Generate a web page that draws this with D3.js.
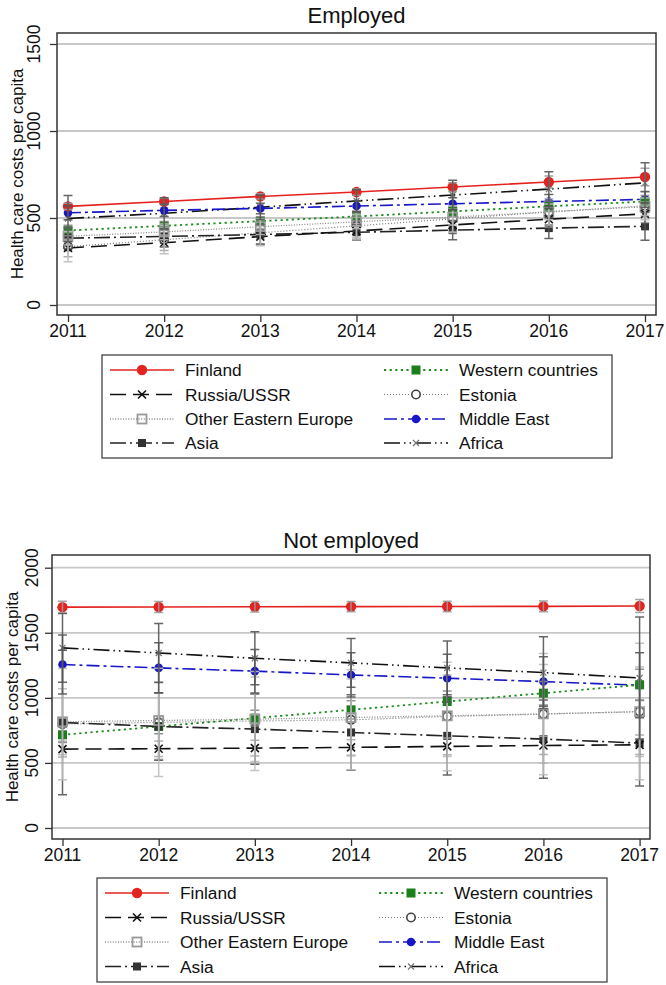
<!DOCTYPE html>
<html><head><meta charset="utf-8">
<script src="https://cdn.jsdelivr.net/npm/d3@7"></script>
<style>
body{margin:0;background:#fff}
svg{display:block}
text{font-family:"Liberation Sans",Arial,Helvetica,sans-serif;fill:#111}
</style>
</head><body><svg id="c" width="666" height="985"></svg>
<script>
// ---------- DATA ----------
const years = [2011, 2012, 2013, 2014, 2015, 2016, 2017];
const seriesNames = ["Finland", "Russia/USSR", "Other Eastern Europe", "Asia",
                     "Western countries", "Estonia", "Middle East", "Africa"];
const empTicks = [0, 500, 1000, 1500];
const notTicks = [0, 500, 1000, 1500, 2000];

// Employed: means
const empFinland  = [567, 595, 624, 649, 678, 707, 736];
const empRussia   = [328, 358, 393, 425, 460, 493, 524];
const empOEE      = [395, 420, 450, 478, 505, 535, 565];
const empAsia     = [384, 394, 405, 418, 430, 442, 452];
const empWestern  = [428, 455, 482, 509, 538, 567, 595];
const empEstonia  = [335, 375, 415, 455, 495, 535, 570];
const empMidEast  = [530, 544, 555, 569, 582, 595, 607];
const empAfrica   = [497, 527, 562, 598, 632, 666, 702];
// Employed: CI half-widths
const empFinlandCI = [18, 18, 15, 18, 25, 35, 50];
const empRussiaCI  = [50, 45, 45, 40, 45, 45, 50];
const empOEECI     = [50, 45, 45, 40, 45, 45, 50];
const empAsiaCI    = [60, 60, 55, 45, 55, 60, 80];
const empWesternCI = [30, 25, 25, 25, 30, 30, 35];
const empEstoniaCI = [87, 80, 75, 75, 75, 75, 80];
const empMidEastCI = [40, 35, 30, 30, 35, 40, 45];
const empAfricaCI  = [133, 90, 70, 65, 85, 100, 115];

// Not employed: means
const notFinland  = [1697, 1698, 1700, 1701, 1702, 1703, 1706];
const notRussia   = [606, 609, 614, 619, 627, 634, 639];
const notOEE      = [816, 826, 836, 849, 862, 877, 893];
const notAsia     = [811, 780, 760, 734, 708, 683, 652];
const notWestern  = [716, 780, 844, 908, 972, 1036, 1100];
const notEstonia  = [798, 812, 822, 831, 857, 875, 895];
const notMidEast  = [1256, 1230, 1205, 1176, 1151, 1125, 1097];
const notAfrica   = [1384, 1345, 1304, 1269, 1230, 1194, 1153];
// Not employed: CI half-widths
const notFinlandCI = [45, 42, 40, 40, 40, 42, 50];
const notRussiaCI  = [60, 60, 60, 60, 65, 70, 75];
const notOEECI     = [254, 297, 325, 295, 313, 379, 344];
const notAsiaCI    = [555, 260, 270, 290, 300, 300, 330];
const notWesternCI = [60, 55, 60, 70, 80, 90, 120];
const notEstoniaCI = [428, 416, 380, 384, 417, 466, 525];
const notMidEastCI = [226, 193, 167, 170, 184, 190, 249];
const notAfricaCI  = [264, 227, 203, 187, 206, 275, 469];

// ---------- STYLES ----------
const styles = [
  {color:"#e3231f", dash:null, width:1.6, marker:"circleFill", mcolor:"#e3231f", msize:5.2, ci:"#9a9a9a"},
  {color:"#111", dash:"16,7", width:1.6, marker:"x", mcolor:"#111", msize:4, ci:"#a8a8a8"},
  {color:"#8a8a8a", dash:"1,1.6", width:1.3, marker:"squareHollow", mcolor:"#999", msize:9, ci:"#bcbcbc"},
  {color:"#222", dash:"16,4,2,4", width:1.6, marker:"squareFill", mcolor:"#333", msize:8, ci:"#555"},
  {color:"#1e8c1e", dash:"2.2,3.4", width:1.8, marker:"squareFill", mcolor:"#1c7f1c", msize:9, ci:"#888"},
  {color:"#777", dash:"1,2", width:1.2, marker:"circleHollow", mcolor:"#444", msize:4.2, ci:"#bcbcbc"},
  {color:"#1717c8", dash:"13,4,3,4", width:1.6, marker:"circleFill", mcolor:"#1717c8", msize:4.3, ci:"#555"},
  {color:"#111", dash:"16,4,1.5,4,1.5,4", width:1.6, marker:"xSmall", mcolor:"#777", msize:3, ci:"#555"}
];

const empMeans = [empFinland, empRussia, empOEE, empAsia, empWestern, empEstonia, empMidEast, empAfrica];
const empCIs   = [empFinlandCI, empRussiaCI, empOEECI, empAsiaCI, empWesternCI, empEstoniaCI, empMidEastCI, empAfricaCI];
const notMeans = [notFinland, notRussia, notOEE, notAsia, notWestern, notEstonia, notMidEast, notAfrica];
const notCIs   = [notFinlandCI, notRussiaCI, notOEECI, notAsiaCI, notWesternCI, notEstoniaCI, notMidEastCI, notAfricaCI];

const panels = [
  {title:"Employed", means:empMeans, cis:empCIs, ticks:empTicks, ymax:1500,
   left:57, right:656, top:33, bottom:315, x0:68, x1:645, yZero:305, yTop:44,
   titleY:23, tickLabelX:34, axisTitleX:17.5, xLabelY:337,
   legend:{x:102, y:355, w:510, h:103, rows:[370, 394.5, 419, 443]}},
  {title:"Not employed", means:notMeans, cis:notCIs, ticks:notTicks, ymax:2000,
   left:52, right:650, top:555, bottom:839, x0:62.5, x1:639.6, yZero:828, yTop:567.7,
   titleY:548, tickLabelX:31.5, axisTitleX:12.5, xLabelY:861,
   legend:{x:97, y:878, w:510, h:104, rows:[893, 917.5, 942, 966.5]}}
];

const svg = d3.select("#c");

function drawMarker(g, type, x, y, st) {
  const s = st.msize;
  if (type === "circleFill") {
    g.append("circle").attr("cx", x).attr("cy", y).attr("r", s).attr("fill", st.mcolor);
  } else if (type === "circleHollow") {
    g.append("circle").attr("cx", x).attr("cy", y).attr("r", s).attr("fill", "#fff")
      .attr("stroke", st.mcolor).attr("stroke-width", 1.6);
  } else if (type === "squareFill") {
    g.append("rect").attr("x", x - s/2).attr("y", y - s/2).attr("width", s).attr("height", s).attr("fill", st.mcolor);
  } else if (type === "squareHollow") {
    g.append("rect").attr("x", x - s/2).attr("y", y - s/2).attr("width", s).attr("height", s)
      .attr("fill", "none").attr("stroke", st.mcolor).attr("stroke-width", 1.8);
  } else if (type === "x" || type === "xSmall") {
    g.append("path").attr("d", `M${x-s},${y-s}L${x+s},${y+s}M${x-s},${y+s}L${x+s},${y-s}`)
      .attr("stroke", st.mcolor).attr("stroke-width", type === "x" ? 1.6 : 1.3).attr("fill", "none");
  }
}

panels.forEach(p => {
  const x = d3.scaleLinear().domain([years[0], years[years.length-1]]).range([p.x0, p.x1]);
  const y = d3.scaleLinear().domain([0, p.ymax]).range([p.yZero, p.yTop]);
  const g = svg.append("g");

  // title
  g.append("text").attr("x", (p.left + p.right)/2).attr("y", p.titleY)
    .attr("text-anchor", "middle").attr("font-size", 22).text(p.title);

  // gridlines
  g.append("g").selectAll("line").data(p.ticks).join("line")
    .attr("x1", p.left).attr("x2", p.right)
    .attr("y1", d => y(d)).attr("y2", d => y(d))
    .attr("stroke", "#c8c8c8").attr("stroke-width", 1.8);

  // y axis ticks & labels
  const yAxis = d3.axisLeft(y).tickValues(p.ticks).tickSize(7).tickFormat(d3.format("d"));
  const ya = g.append("g").attr("transform", `translate(${p.left},0)`).call(yAxis);
  ya.select(".domain").remove();
  ya.selectAll(".tick line").attr("stroke", "#333").attr("stroke-width", 1.3);
  ya.selectAll(".tick text").remove();
  g.append("g").selectAll("text").data(p.ticks).join("text")
    .attr("transform", d => `translate(${p.tickLabelX},${y(d)}) rotate(-90)`)
    .attr("text-anchor", "middle").attr("dy", "0.35em").attr("font-size", 17.5)
    .text(d => d);

  // x axis
  const xAxis = d3.axisBottom(x).tickValues(years).tickSize(7).tickFormat(d3.format("d"));
  const xa = g.append("g").attr("transform", `translate(0,${p.bottom})`).call(xAxis);
  xa.select(".domain").remove();
  xa.selectAll(".tick line").attr("stroke", "#333").attr("stroke-width", 1.3);
  xa.selectAll(".tick text").remove();
  g.append("g").selectAll("text").data(years).join("text")
    .attr("x", d => x(d)).attr("y", p.xLabelY).attr("text-anchor", "middle")
    .attr("font-size", 17.5).text(d => d);

  // axis title
  g.append("text").attr("transform", `translate(${p.axisTitleX},${(p.top + p.bottom)/2}) rotate(-90)`)
    .attr("text-anchor", "middle").attr("dy", "0.35em").attr("font-size", 17)
    .text("Health care costs per capita");

  // lines
  const line = d3.line().x((d, i) => x(years[i])).y(d => y(d));
  const lg = g.append("g");
  [7, 6, 5, 4, 3, 2, 1, 0].forEach(k => {
    const st = styles[k];
    lg.append("path").datum(p.means[k]).attr("d", line).attr("fill", "none")
      .attr("stroke", st.color).attr("stroke-width", st.width)
      .attr("stroke-dasharray", st.dash);
  });

  // markers
  const mg = g.append("g");
  [7, 6, 5, 4, 3, 2, 1, 0].forEach(k => {
    const st = styles[k];
    p.means[k].forEach((v, i) => drawMarker(mg, st.marker, x(years[i]), y(v), st));
  });

  // error bars
  const eg = g.append("g");
  [0, 1, 2, 3, 4, 5, 6, 7].forEach(k => {
    const st = styles[k];
    p.means[k].forEach((v, i) => {
      const cx = x(years[i]);
      const lo = y(v - p.cis[k][i]), hi = y(v + p.cis[k][i]);
      eg.append("path")
        .attr("d", `M${cx},${lo}L${cx},${hi}M${cx-4.5},${lo}L${cx+4.5},${lo}M${cx-4.5},${hi}L${cx+4.5},${hi}`)
        .attr("stroke", st.ci).attr("stroke-width", 1.5).attr("fill", "none").attr("opacity", 0.9);
    });
  });

  // frame
  g.append("rect").attr("x", p.left).attr("y", p.top).attr("width", p.right - p.left)
    .attr("height", p.bottom - p.top).attr("fill", "none").attr("stroke", "#333").attr("stroke-width", 1.5);

  // legend (two columns, first four series on the left)
  const L = p.legend;
  const leg = g.append("g");
  leg.append("rect").attr("x", L.x).attr("y", L.y).attr("width", L.w).attr("height", L.h)
    .attr("fill", "#fff").attr("stroke", "#444").attr("stroke-width", 1.3);
  seriesNames.forEach((name, k) => {
    const col = k < 4 ? 0 : 1, row = k % 4;
    const st = styles[k];
    const lx0 = L.x + (col === 0 ? 8 : 282), lx1 = lx0 + 64, ty = L.rows[row];
    leg.append("line").attr("x1", lx0).attr("x2", lx1).attr("y1", ty).attr("y2", ty)
      .attr("stroke", st.color).attr("stroke-width", st.width).attr("stroke-dasharray", st.dash);
    drawMarker(leg, st.marker, (lx0 + lx1)/2, ty, st);
    leg.append("text").attr("x", lx1 + 11).attr("y", ty).attr("dy", "0.35em")
      .attr("font-size", 17.3).text(name);
  });
});
</script>
</body></html>
